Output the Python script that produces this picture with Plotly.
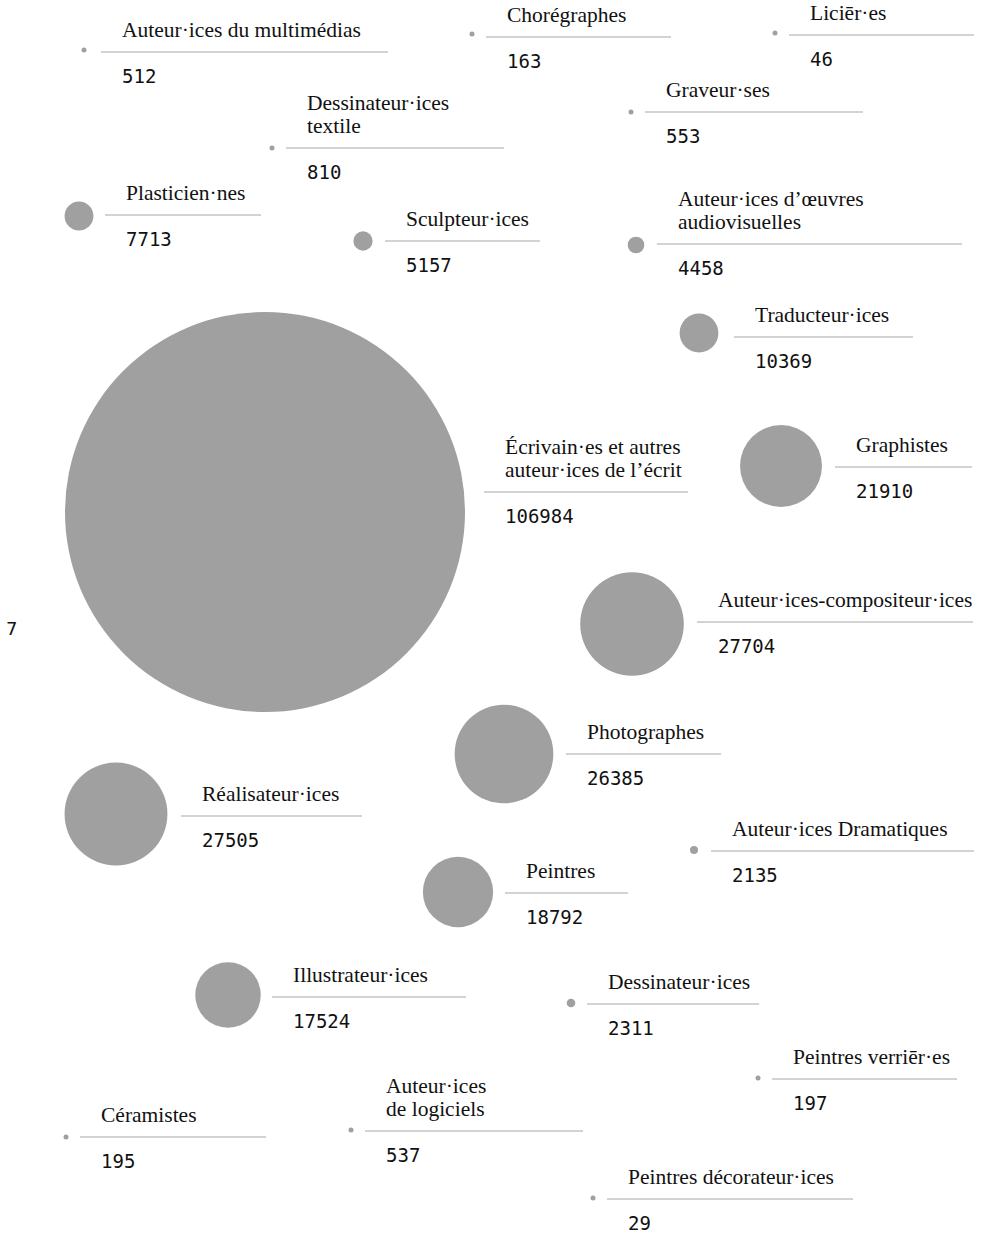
import plotly.graph_objects as go

# Data
names = [
    "Auteur·ices du multimédias", "Chorégraphes", "Liciēr·es", "Dessinateur·ices\ntextile",
    "Graveur·ses", "Plasticien·nes", "Sculpteur·ices", "Auteur·ices d’œuvres\naudiovisuelles",
    "Traducteur·ices", "Écrivain·es et autres\nauteur·ices de l’écrit", "Graphistes",
    "Auteur·ices-compositeur·ices", "Photographes", "Réalisateur·ices", "Auteur·ices Dramatiques",
    "Peintres", "Illustrateur·ices", "Dessinateur·ices", "Peintres verriēr·es",
    "Auteur·ices\nde logiciels", "Céramistes", "Peintres décorateur·ices",
]
values = [512, 163, 46, 810, 553, 7713, 5157, 4458, 10369, 106984, 21910,
          27704, 26385, 27505, 2135, 18792, 17524, 2311, 197, 537, 195, 29]

# Layout positions (bubble layout, pixel space)
cx = [84, 472, 775, 272, 631, 79, 363, 636, 699, 265, 781, 632, 504, 116, 694, 458, 228, 571, 758, 351, 66, 593]
cy = [50, 34, 33, 148, 112, 216, 241, 245, 333, 512, 466, 624, 754, 814, 850, 892, 995, 1003, 1078, 1130, 1137, 1198]
lx0 = [101, 486, 789, 286, 645, 105, 385, 657, 734, 484, 835, 697, 566, 181, 711, 505, 272, 587, 772, 365, 80, 607]
lx1 = [388, 671, 974, 504, 863, 261, 540, 962, 913, 688, 972, 973, 721, 362, 974, 628, 466, 759, 957, 583, 266, 853]
ly = [52, 37, 35, 148, 112, 215, 241, 244, 337, 492, 467, 622, 754, 816, 851, 893, 997, 1004, 1079, 1131, 1137, 1199]

W, H = 983, 1234
max_val = max(values)
BIG_DIAM = 400

fig = go.Figure()

# connector lines
lxs, lys = [], []
for a, b, y in zip(lx0, lx1, ly):
    lxs += [a, b, None]
    lys += [y, y, None]
fig.add_trace(go.Scatter(x=lxs, y=lys, mode="lines",
                         line=dict(color="#c4c4c4", width=1.3),
                         hoverinfo="skip", showlegend=False))

# bubbles
fig.add_trace(go.Scatter(
    x=cx, y=cy, mode="markers",
    marker=dict(size=values, sizemode="diameter", sizeref=max_val / BIG_DIAM,
                sizemin=2.5, color="#a0a0a0", line=dict(width=0), opacity=1),
    text=[n.replace("\n", " ") for n in names], hoverinfo="text", showlegend=False))

serif = dict(family="Liberation Serif", size=21.5, color="#111111")
mono = dict(family="DejaVu Sans Mono", size=19, color="#111111")

ann = []
for n, v, a, y in zip(names, values, lx0, ly):
    tx = a + 19
    lines = n.split("\n")
    for i, line in enumerate(reversed(lines)):
        ann.append(dict(x=tx, y=y - 22 - 23 * i, text=line, showarrow=False,
                        xanchor="left", yanchor="middle", font=serif))
    ann.append(dict(x=tx, y=y + 23.5, text=str(v), showarrow=False,
                    xanchor="left", yanchor="middle", font=mono))

ann.append(dict(x=4, y=628, text="7", showarrow=False, xanchor="left",
                yanchor="middle", font=dict(family="DejaVu Sans", size=18, color="#111111")))

fig.update_layout(
    width=W, height=H, margin=dict(l=0, r=0, t=0, b=0),
    paper_bgcolor="white", plot_bgcolor="white",
    xaxis=dict(range=[0, W], visible=False, fixedrange=True),
    yaxis=dict(range=[H, 0], visible=False, fixedrange=True),
    annotations=ann, showlegend=False,
)

fig.write_html(
    "out.html",
    config={"displayModeBar": False},
    post_script="document.body.style.margin='0';document.body.style.overflow='hidden';",
)
